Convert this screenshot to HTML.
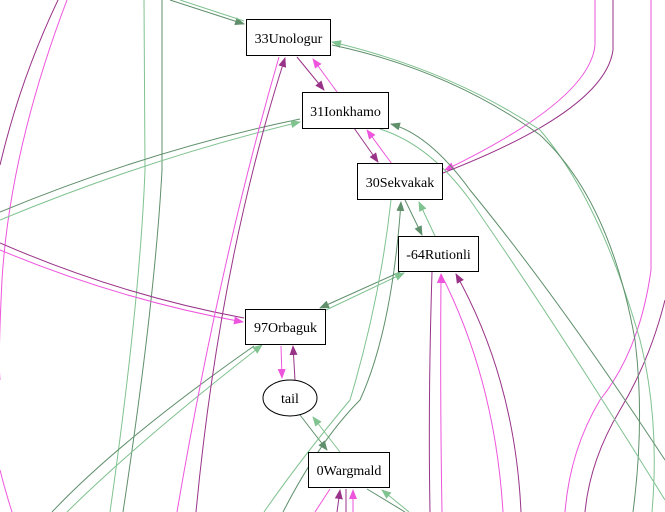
<!DOCTYPE html>
<html><head><meta charset="utf-8"><style>
html,body{margin:0;padding:0;background:#fff;}
svg{display:block;}
text{font-family:"Liberation Serif",serif;font-size:14px;}
</style></head><body>
<svg width="665" height="512" viewBox="0 0 665 512" xmlns="http://www.w3.org/2000/svg">
<defs>
<marker id="dg" markerWidth="10" markerHeight="8" refX="9" refY="4" orient="auto" markerUnits="userSpaceOnUse"><path d="M0,0 L10,4 L0,8z" fill="#5f8f6b"/></marker>
<marker id="lg" markerWidth="10" markerHeight="8" refX="9" refY="4" orient="auto" markerUnits="userSpaceOnUse"><path d="M0,0 L10,4 L0,8z" fill="#80c290"/></marker>
<marker id="mg" markerWidth="10" markerHeight="8" refX="9" refY="4" orient="auto" markerUnits="userSpaceOnUse"><path d="M0,0 L10,4 L0,8z" fill="#ee55dd"/></marker>
<marker id="pu" markerWidth="10" markerHeight="8" refX="9" refY="4" orient="auto" markerUnits="userSpaceOnUse"><path d="M0,0 L10,4 L0,8z" fill="#993388"/></marker>
</defs>
<g fill="none" stroke-width="1">
<!-- left side -->
<path d="M58,0 Q20,80 0,165" stroke="#993388"/>
<path d="M67,0 Q10,150 2,280 Q-2,360 0,380" stroke="#ee55dd"/>
<path d="M0,470 Q5,490 12,512" stroke="#ee55dd"/>
<path d="M144,0 L145,170 Q140,300 110,512" stroke="#80c290"/>
<path d="M162,0 L162,170 Q155,300 123,512" stroke="#5f8f6b"/>
<path d="M170,0 L244,24" stroke="#5f8f6b" marker-end="url(#dg)"/>
<path d="M180,0 L244,21" stroke="#80c290"/>
<path d="M0,212 Q150,150 300,119" stroke="#5f8f6b"/>
<path d="M0,220 Q150,158 300,122" stroke="#80c290" marker-end="url(#lg)"/>
<path d="M0,243 Q120,295 244,318" stroke="#993388"/>
<path d="M0,250 Q120,300 243,322" stroke="#ee55dd" marker-end="url(#mg)"/>
<path d="M254,346 Q120,440 52,512" stroke="#5f8f6b"/>
<path d="M67,512 Q140,440 262,345" stroke="#80c290" marker-end="url(#lg)"/>
<path d="M279,57 Q220,260 177,512" stroke="#ee55dd"/>
<path d="M196,512 Q220,260 285,58" stroke="#993388" marker-end="url(#pu)"/>
<!-- node to node -->
<path d="M297,57 L324,90" stroke="#993388" marker-end="url(#pu)"/>
<path d="M337,92 L313,59" stroke="#ee55dd" marker-end="url(#mg)"/>
<path d="M354,128 L378,162" stroke="#993388" marker-end="url(#pu)"/>
<path d="M392,164 L367,130" stroke="#ee55dd" marker-end="url(#mg)"/>
<path d="M405,200 L422,235" stroke="#5f8f6b" marker-end="url(#dg)"/>
<path d="M435,236 L419,202" stroke="#80c290" marker-end="url(#lg)"/>
<path d="M400,272 L320,308" stroke="#5f8f6b" marker-end="url(#dg)"/>
<path d="M326,310 L404,273" stroke="#80c290" marker-end="url(#lg)"/>
<path d="M281,346 L282,378" stroke="#ee55dd" marker-end="url(#mg)"/>
<path d="M295,380 L293,346" stroke="#993388" marker-end="url(#pu)"/>
<path d="M300,415 L327,450" stroke="#5f8f6b" marker-end="url(#dg)"/>
<path d="M340,452 L313,417" stroke="#80c290" marker-end="url(#lg)"/>
<!-- 30S bottom -->
<path d="M391,200 Q380,300 350,400 Q300,460 264,512" stroke="#80c290"/>
<path d="M283,512 Q320,440 360,400 Q392,330 401,202" stroke="#5f8f6b" marker-end="url(#dg)"/>
<!-- 64R bottom -->
<path d="M432,272 Q428,400 430,512" stroke="#993388"/>
<path d="M442,512 Q440,400 441,274" stroke="#ee55dd" marker-end="url(#mg)"/>
<path d="M503,512 Q495,380 441,274" stroke="#ee55dd"/>
<path d="M521,512 Q515,380 456,274" stroke="#993388" marker-end="url(#pu)"/>
<!-- 0W bottom -->
<path d="M330,489 L315,512" stroke="#ee55dd"/>
<path d="M337,512 L340,490" stroke="#993388" marker-end="url(#pu)"/>
<path d="M346,489 L346,512" stroke="#993388"/>
<path d="M353,512 L353,490" stroke="#ee55dd" marker-end="url(#mg)"/>
<path d="M367,489 L405,512" stroke="#5f8f6b"/>
<path d="M409,512 L382,490" stroke="#80c290" marker-end="url(#lg)"/>
<!-- right side -->
<path d="M595,0 L595,45 Q590,100 445,170" stroke="#ee55dd" marker-end="url(#mg)"/>
<path d="M613,0 L613,50 Q605,110 443,173" stroke="#993388"/>
<path d="M651,0 L651,270 Q640,350 600,400 Q570,450 565,512" stroke="#ee55dd"/>
<path d="M665,300 Q650,360 620,410 Q590,460 585,512" stroke="#993388"/>
<path d="M652,512 Q660,420 640,340 Q600,200 540,130 Q450,70 332,42" stroke="#80c290" marker-end="url(#lg)"/>
<path d="M332,45 Q450,70 540,135 Q610,200 635,340 Q645,420 633,512" stroke="#5f8f6b"/>
<path d="M665,460 Q560,300 470,190 Q430,135 391,124" stroke="#5f8f6b" marker-end="url(#dg)"/>
<path d="M380,129 Q430,145 470,200 Q560,330 665,500" stroke="#80c290"/>
</g>
<g stroke="#000" stroke-width="1" fill="#fff">
<rect x="246.5" y="19.5" width="84" height="36"/>
<rect x="302.5" y="92.5" width="86" height="36"/>
<rect x="357.5" y="163.5" width="85" height="36"/>
<rect x="398.5" y="236.5" width="80" height="35"/>
<rect x="245.5" y="309.5" width="80" height="35"/>
<ellipse cx="290" cy="398" rx="27" ry="18"/>
<rect x="308.5" y="452.5" width="81" height="35"/>
</g>
<g fill="#000" text-anchor="middle">
<text x="288.5" y="43">33Unologur</text>
<text x="345.5" y="116">31Ionkhamo</text>
<text x="400" y="187">30Sekvakak</text>
<text x="438.5" y="259">-64Rutionli</text>
<text x="285.5" y="332">97Orbaguk</text>
<text x="290" y="403">tail</text>
<text x="349" y="475">0Wargmald</text>
</g>
</svg>
</body></html>
